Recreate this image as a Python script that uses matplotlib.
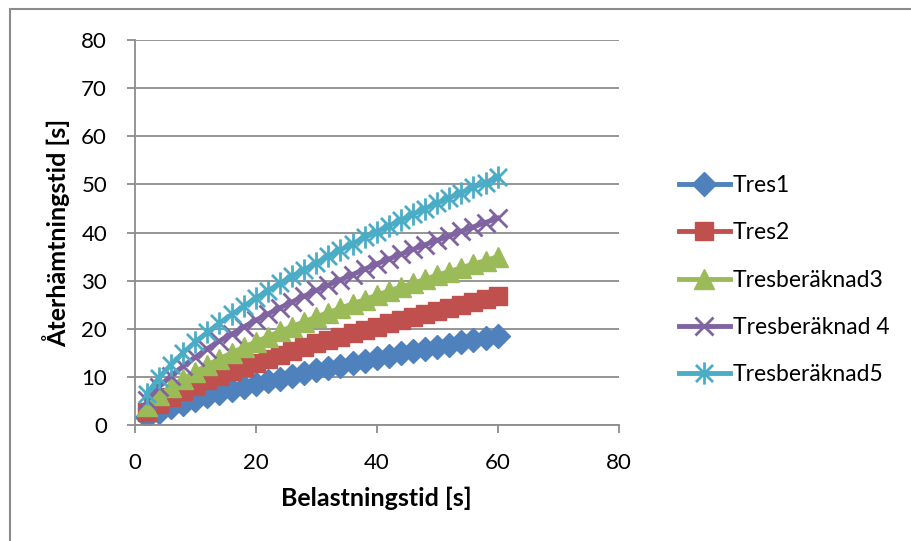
import numpy as np
import matplotlib.pyplot as plt
from matplotlib.path import Path
from matplotlib.patches import Rectangle

plt.rcParams['font.family'] = ['Lato', 'DejaVu Sans']

# belastningstid [s]
belastning = [2, 4, 6, 8, 10, 12, 14, 16, 18, 20, 22, 24, 26, 28, 30,
              32, 34, 36, 38, 40, 42, 44, 46, 48, 50, 52, 54, 56, 58, 60]

# återhämtningstid [s]
tres1 = [1.7, 2.8, 3.7, 4.5, 5.3, 6.0, 6.7, 7.3, 8.0, 8.6, 9.2, 9.7, 10.3, 10.9, 11.4,
         11.9, 12.4, 12.9, 13.4, 13.9, 14.4, 14.9, 15.4, 15.8, 16.3, 16.7, 17.2, 17.6, 18.1, 18.5]
tres2 = [2.8, 4.5, 5.9, 7.1, 8.2, 9.3, 10.3, 11.2, 12.1, 13.0, 13.8, 14.6, 15.4, 16.2, 17.0,
         17.7, 18.4, 19.1, 19.8, 20.5, 21.2, 21.8, 22.5, 23.1, 23.8, 24.4, 25.0, 25.6, 26.2, 26.8]
tres3 = [4.0, 6.2, 8.0, 9.6, 11.1, 12.5, 13.8, 15.0, 16.2, 17.3, 18.4, 19.5, 20.5, 21.5, 22.5,
         23.4, 24.3, 25.2, 26.1, 27.0, 27.9, 28.7, 29.5, 30.3, 31.2, 31.9, 32.7, 33.5, 34.2, 35.0]
tres4 = [5.2, 8.0, 10.3, 12.3, 14.1, 15.9, 17.5, 18.9, 20.4, 21.8, 23.1, 24.4, 25.6, 26.8, 28.0,
         29.1, 30.2, 31.3, 32.4, 33.5, 34.5, 35.5, 36.5, 37.5, 38.4, 39.3, 40.3, 41.2, 42.1, 43.0]
tres5 = [6.5, 9.9, 12.6, 15.1, 17.3, 19.3, 21.2, 23.0, 24.7, 26.4, 27.9, 29.5, 30.9, 32.3, 33.7,
         35.1, 36.4, 37.7, 39.0, 40.2, 41.4, 42.6, 43.8, 45.0, 46.1, 47.2, 48.3, 49.4, 50.4, 51.5]

labels = ["Tres1", "Tres2", "Tresberäknad3", "Tresberäknad 4", "Tresberäknad5"]
colors = ["#4F81BD", "#C0504D", "#9BBB59", "#8064A2", "#4BACC6"]

# Excel-stjärna: kryss + lodrät linje
star = Path([(-1, -1), (1, 1), (-1, 1), (1, -1), (0, -1.3), (0, 1.3)],
            [Path.MOVETO, Path.LINETO, Path.MOVETO, Path.LINETO, Path.MOVETO, Path.LINETO])

fig = plt.figure(figsize=(9.11, 5.41), dpi=100)
# diagramram, bara vänster- och överkant syns
fig.patches.append(Rectangle((0.0105, -0.1), 1.1, 1.083, transform=fig.transFigure,
                             fill=False, edgecolor="#8c8c8c", linewidth=1.5))
ax = fig.add_axes([0.148, 0.214, 0.531, 0.712])

lw = 3.5
ax.plot(belastning, tres1, color=colors[0], lw=lw, marker="D", ms=12, label=labels[0])
ax.plot(belastning, tres2, color=colors[1], lw=lw, marker="s", ms=13.5, label=labels[1])
ax.plot(belastning, tres3, color=colors[2], lw=lw, marker="^", ms=15, label=labels[2])
ax.plot(belastning, tres4, color=colors[3], lw=lw, marker="x", ms=12.5, mew=2, label=labels[3])
ax.plot(belastning, tres5, color=colors[4], lw=lw, marker=star, ms=16, mew=2, label=labels[4])

ax.set_xlim(0, 80)
ax.set_ylim(0, 80)
ax.set_xticks([0, 20, 40, 60, 80])
ax.set_yticks(np.arange(0, 81, 10))
ax.yaxis.grid(True, color="#8c8c8c", lw=1.3)
ax.set_axisbelow(True)
for s in ["top", "right"]:
    ax.spines[s].set_visible(False)
for s in ["left", "bottom"]:
    ax.spines[s].set_color("#8c8c8c")
    ax.spines[s].set_linewidth(1.3)
ax.tick_params(colors="#8c8c8c", labelcolor="black", labelsize=16, length=6, width=1.3)
ax.tick_params(axis="x", pad=14)
ax.tick_params(axis="y", pad=14)

ax.set_xlabel("Belastningstid [s]", fontsize=18, fontweight="bold", labelpad=10)
ax.set_ylabel("Återhämtningstid [s]", fontsize=18, fontweight="bold", labelpad=8)

fig.legend(loc="center left", bbox_to_anchor=(0.733, 0.482), frameon=False, fontsize=16.5,
           handlelength=2.2, handletextpad=0.15, labelspacing=1.15, borderpad=0, numpoints=1)

plt.savefig("out.png", dpi=100)
